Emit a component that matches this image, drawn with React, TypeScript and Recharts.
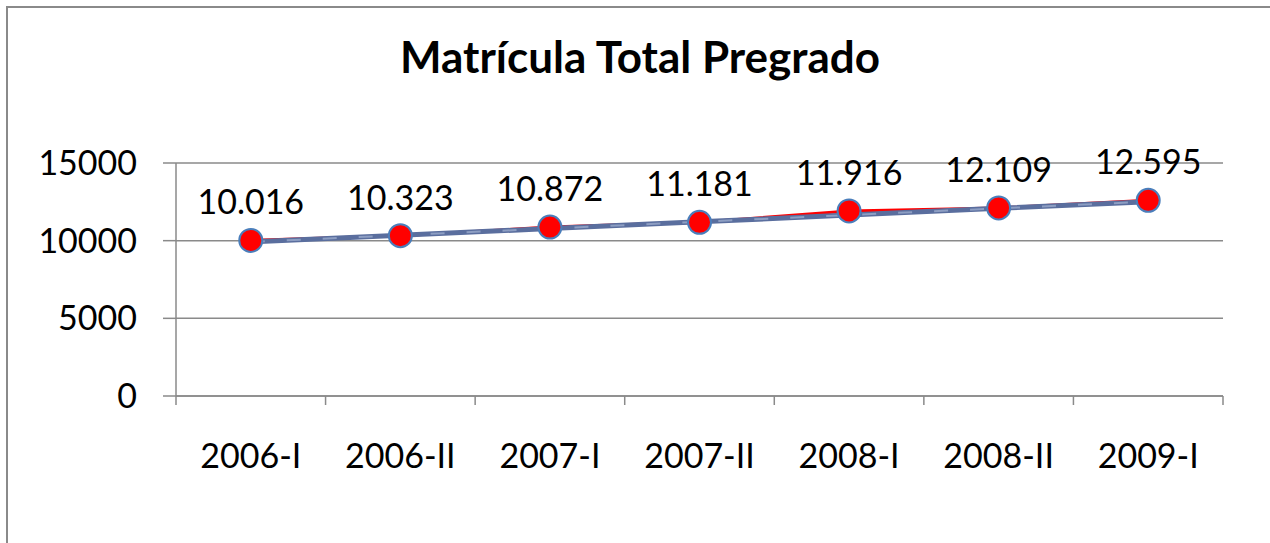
import { LineChart, Line, XAxis, YAxis, CartesianGrid, LabelList } from 'recharts'

// ── Data ─────────────────────────────────────────────────────────────────────

const categories = ['2006-I', '2006-II', '2007-I', '2007-II', '2008-I', '2008-II', '2009-I']
const matricula = [10016, 10323, 10872, 11181, 11916, 12109, 12595]
// linear trend line
const tendencia = [9918, 10351, 10783, 11216, 11648, 12081, 12513]
const valueLabels = ['10.016', '10.323', '10.872', '11.181', '11.916', '12.109', '12.595']
const yTicks = [0, 5000, 10000, 15000]
const xEdges = [0.5, 1.5, 2.5, 3.5, 4.5, 5.5, 6.5, 7.5]

const data = categories.map((cat, i) => ({
  x: i + 1,
  cat,
  value: matricula[i],
  trend: tendencia[i],
  label: valueLabels[i],
}))

// ─────────────────────────────────────────────────────────────────────────────

const W = 1270
const H = 543
const FONT = 'Lato, "Open Sans", sans-serif'
const GRAY = '#8a8a8a'
const PLOT_LEFT = 176
const PLOT_RIGHT = 47
const HALF_STEP = (W - PLOT_LEFT - PLOT_RIGHT) / categories.length / 2

function CategoryTick({ x, y, payload }: any) {
  const idx = payload.value - 0.5
  if (idx < 0 || idx >= categories.length) return null
  return (
    <text x={x + HALF_STEP} y={y + 61} textAnchor="middle" fontFamily={FONT} fontSize={34} fill="#000">
      {categories[idx]}
    </text>
  )
}

function ValueLabel({ x, y, value }: any) {
  return (
    <text x={x} y={y - 26} textAnchor="middle" fontFamily={FONT} fontSize={34} fill="#000">
      {value}
    </text>
  )
}

export default function App() {
  return (
    <div style={{ position: 'absolute', left: 0, top: 0, width: W, height: H, overflow: 'hidden', background: '#fff' }}>
      <svg width={W} height={H} style={{ position: 'absolute', left: 0, top: 0 }}>
        <rect x={7} y={7} width={W + 40} height={H + 40} fill="none" stroke={GRAY} strokeWidth={2} />
        <text x={640} y={73} textAnchor="middle" fontFamily={FONT} fontWeight="bold" fontSize={44} fill="#000">
          Matrícula Total Pregrado
        </text>
      </svg>
      <div style={{ position: 'absolute', left: 0, top: 0 }}>
        <LineChart width={W} height={H} data={data} margin={{ top: 163, right: PLOT_RIGHT, left: 0, bottom: 47 }}>
          <CartesianGrid vertical={false} stroke={GRAY} strokeWidth={1.5} />
          <XAxis
            type="number"
            dataKey="x"
            domain={[0.5, 7.5]}
            ticks={xEdges}
            interval={0}
            height={100}
            tickSize={9}
            stroke={GRAY}
            strokeWidth={1.5}
            tick={<CategoryTick />}
          />
          <YAxis
            type="number"
            domain={[0, 15000]}
            ticks={yTicks}
            interval={0}
            width={PLOT_LEFT}
            tickSize={13}
            tickMargin={26}
            stroke={GRAY}
            strokeWidth={1.5}
            tick={{ fontFamily: FONT, fontSize: 34, fill: '#000' }}
          />
          <Line
            dataKey="value"
            stroke="#ff0000"
            strokeWidth={3}
            dot={{ r: 11.5, fill: '#ff0000', stroke: '#4a7ebb', strokeWidth: 2 }}
            activeDot={false}
            isAnimationActive={false}
          >
            <LabelList dataKey="label" content={<ValueLabel />} />
          </Line>
          <Line
            dataKey="trend"
            stroke="#5a6e9e"
            strokeWidth={5}
            dot={false}
            activeDot={false}
            isAnimationActive={false}
          />
          <Line
            dataKey="trend"
            stroke="#8d9ec3"
            strokeWidth={2}
            strokeDasharray="14 22"
            dot={false}
            activeDot={false}
            isAnimationActive={false}
          />
        </LineChart>
      </div>
    </div>
  )
}
